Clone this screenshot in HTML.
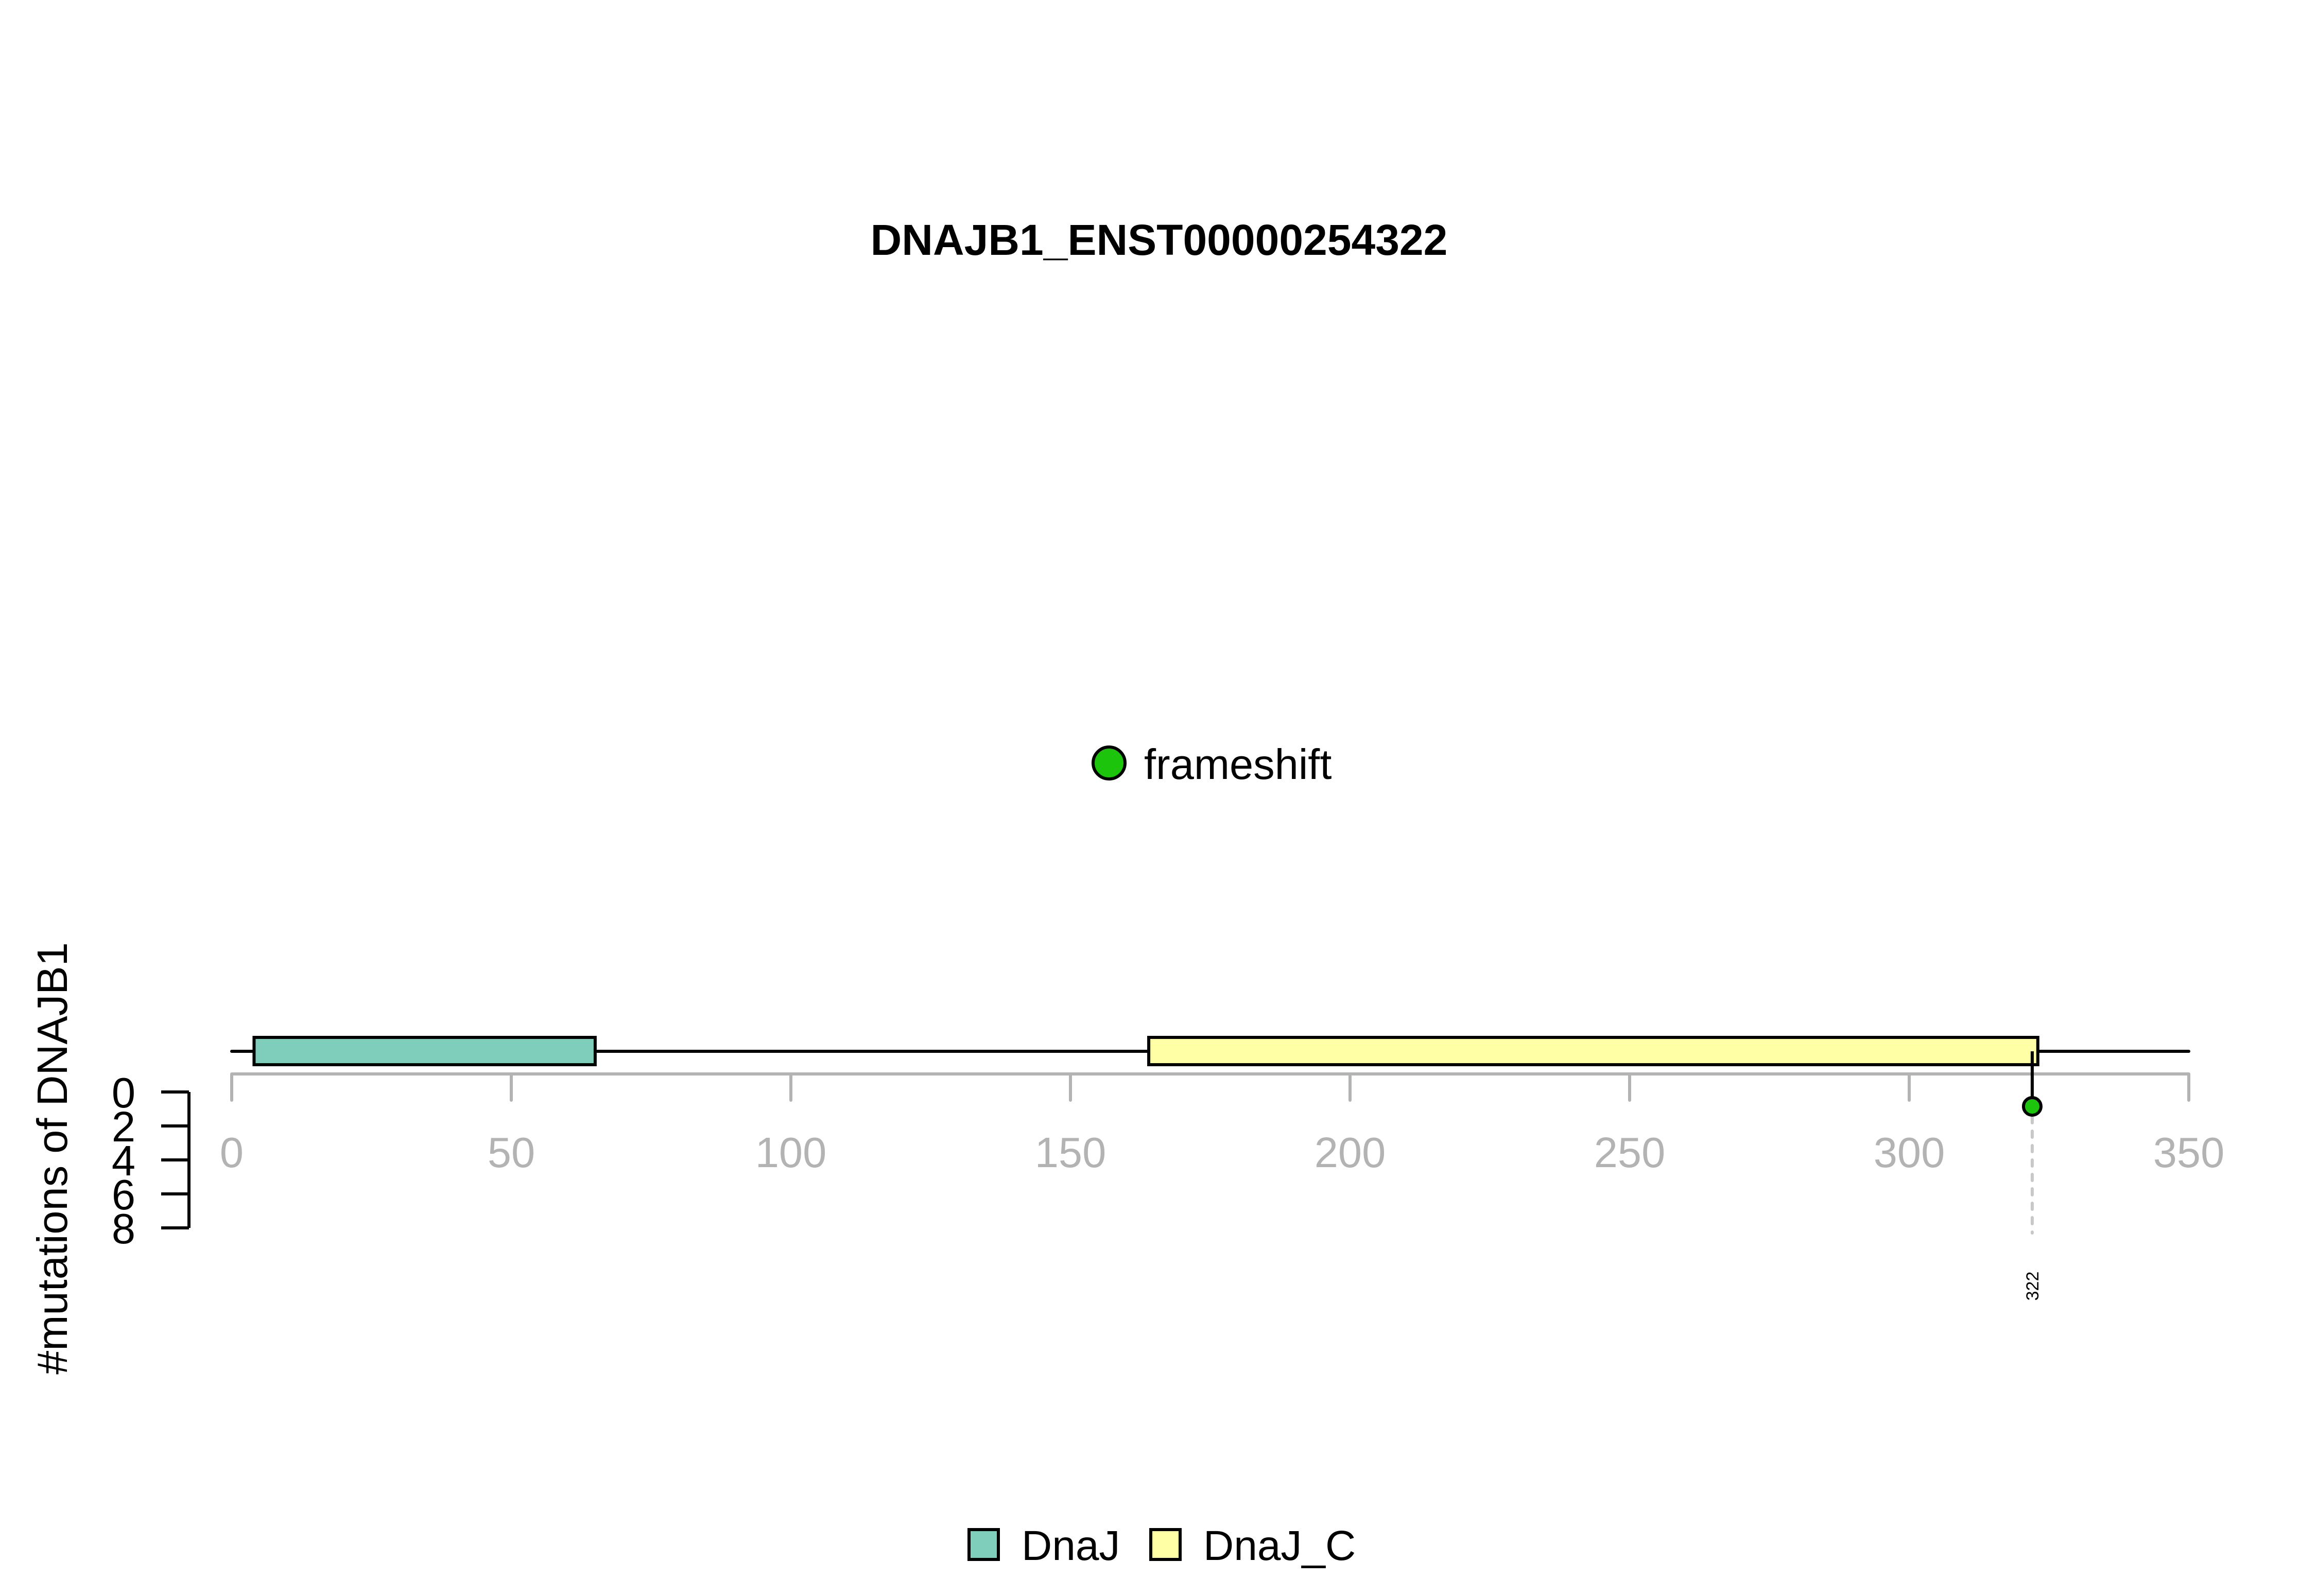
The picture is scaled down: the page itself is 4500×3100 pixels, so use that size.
<!DOCTYPE html>
<html><head><meta charset="utf-8"><style>html,body{margin:0;padding:0;background:#fff}svg{display:block}text{font-family:"Liberation Sans",Arial,sans-serif}</style></head>
<body>
<svg id="chart" width="4500" height="3100" viewBox="0 0 4500 3100" xmlns="http://www.w3.org/2000/svg">
<rect width="4500" height="3100" fill="#fff"/>
<text x="2251" y="495" text-anchor="middle" font-size="84" font-weight="bold">DNAJB1_ENST00000254322</text>
<text transform="translate(130,2250) rotate(-90)" text-anchor="middle" font-size="83">#mutations of DNAJB1</text>
<g id="plot"></g>
</svg>
<script>
const xTicks = [0, 50, 100, 150, 200, 250, 300, 350];
const yTicks = [0, 2, 4, 6, 8];
const proteinLength = 350;
const domainNames = ["DnaJ", "DnaJ_C"];
const domainStarts = [4, 164];
const domainEnds = [65, 323];
const domainColors = ["#7fcdbb", "#ffffa6"];
const mutPositions = [322];
const mutCounts = [1];
const mutTypes = ["frameshift"];
const mutColors = ["#1cc40c"];

const NS = "http://www.w3.org/2000/svg";
const g = document.getElementById('plot');
const X0 = 450, PXU = 10.86;
const sx = v => X0 + v * PXU;
const Y0 = 2121, PYU = 33;
const sy = v => Y0 + v * PYU;
function mk(tag, attrs, parent) {
  const e = document.createElementNS(NS, tag);
  for (const k in attrs) e.setAttribute(k, attrs[k]);
  (parent || g).appendChild(e);
  return e;
}
// x axis (gray)
let e = mk('line', {x1: sx(xTicks[0]), x2: sx(xTicks[xTicks.length-1]), y1: 2086, y2: 2086, stroke: '#b3b3b3', 'stroke-width': 6});


xTicks.forEach(t => {
  const l = mk('line', {x1: sx(t), x2: sx(t), y1: 2086, y2: 2137, stroke: '#b3b3b3', 'stroke-width': 6, 'stroke-linecap': 'round'});
  
  
  const tx = mk('text', {x: sx(t), y: 2267, 'text-anchor': 'middle', 'font-size': 83, fill: '#b3b3b3'});
  tx.textContent = t;
  
  
});
// y axis
e = mk('line', {x1: 367, x2: 367, y1: sy(yTicks[0]), y2: sy(yTicks[yTicks.length-1]), stroke: '#000', 'stroke-width': 6});


yTicks.forEach(t => {
  const l = mk('line', {x1: 313, x2: 367, y1: sy(t), y2: sy(t), stroke: '#000', 'stroke-width': 6});
  
  
  const tx = mk('text', {x: 240, y: sy(t) + 30, 'text-anchor': 'middle', 'font-size': 83});
  tx.textContent = t;
  
  
});
// backbone
e = mk('line', {x1: sx(0), x2: sx(proteinLength), y1: 2042, y2: 2042, stroke: '#000', 'stroke-width': 6, 'stroke-linecap': 'round'});


// domains
domainNames.forEach((n, i) => {
  const r = mk('rect', {x: sx(domainStarts[i]), y: 2015, width: sx(domainEnds[i]) - sx(domainStarts[i]), height: 53, fill: domainColors[i], stroke: '#000', 'stroke-width': 6});
  
  
});
// mutations
mutPositions.forEach((p, i) => {
  const cy = sy(mutCounts[i]) - 5;
  const d = mk('line', {x1: sx(p), x2: sx(p), y1: cy + 20, y2: 2395, stroke: '#c8c8c8', 'stroke-width': 6, 'stroke-dasharray': '12 16', 'stroke-linecap': 'round'});
  
  
  const s = mk('line', {x1: sx(p), x2: sx(p), y1: 2042, y2: cy, stroke: '#000', 'stroke-width': 6});
  
  
  const c = mk('circle', {cx: sx(p), cy: cy, r: 17, fill: mutColors[i], stroke: '#000', 'stroke-width': 6});
  
  
  const t = mk('text', {transform: `translate(${sx(p) + 12},2498) rotate(-90)`, 'text-anchor': 'middle', 'font-size': 34});
  t.textContent = p;
  
  
});
// mutation type legend
mutTypes.forEach((m, i) => {
  const c = mk('circle', {cx: 2154, cy: 1482, r: 31, fill: mutColors[i], stroke: '#000', 'stroke-width': 6});
  
  
  const t = mk('text', {x: 2222, y: 1513, 'font-size': 83});
  t.textContent = m;
  
  
});
// domain legend
const legX = [1882, 2235];
domainNames.forEach((n, i) => {
  const r = mk('rect', {x: legX[i], y: 2971, width: 57, height: 58, fill: domainColors[i], stroke: '#000', 'stroke-width': 6});
  
  
  const t = mk('text', {x: legX[i] + 102, y: 3030, 'font-size': 82});
  t.textContent = n;
  
  
});
</script>
</body></html>
